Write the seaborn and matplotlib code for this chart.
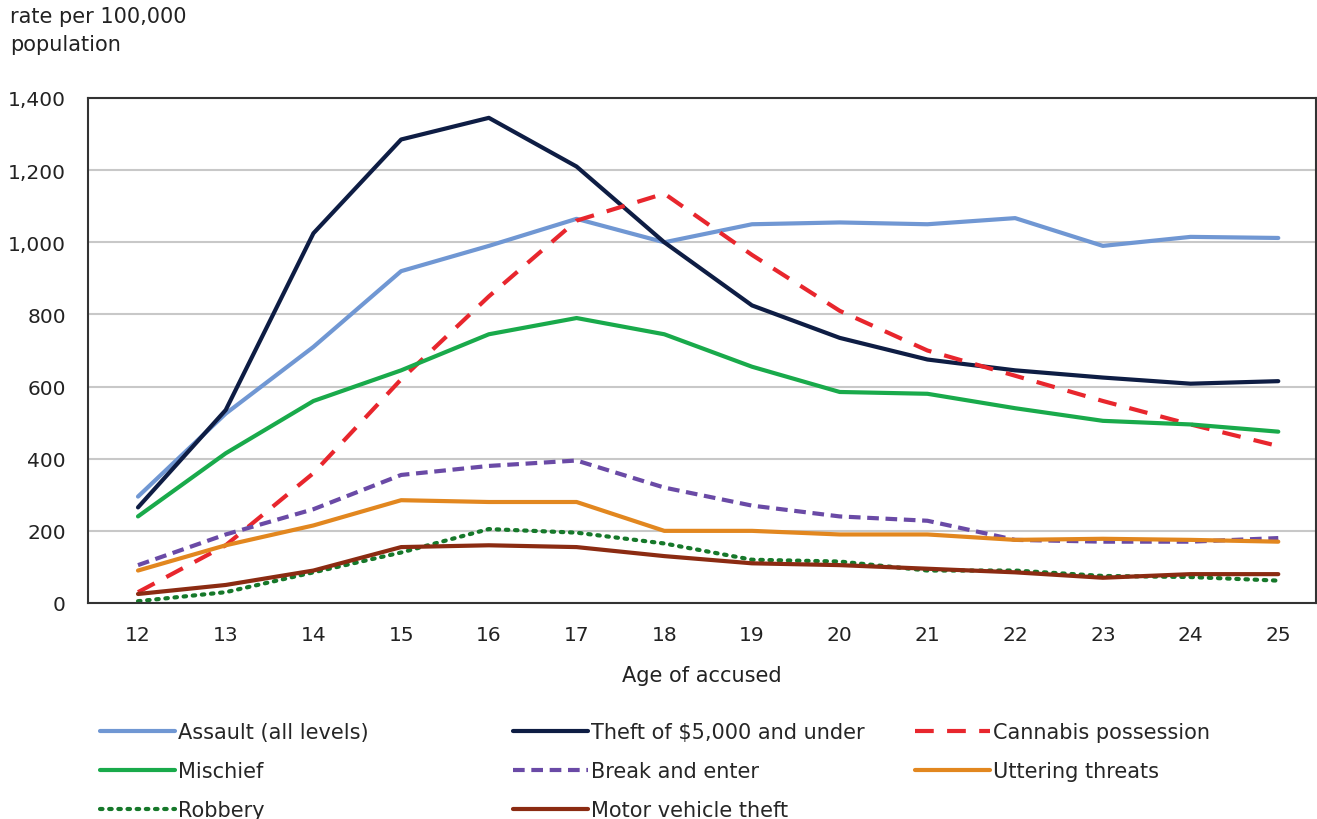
import matplotlib
matplotlib.use("Agg")
import matplotlib.pyplot as plt
from matplotlib.ticker import FuncFormatter, MultipleLocator, FixedLocator
import seaborn as sns

# ------------------------------------------------------------
# Data
# ------------------------------------------------------------
ages = [12, 13, 14, 15, 16, 17, 18, 19, 20, 21, 22, 23, 24, 25]

assault = [295, 525, 710, 920, 990, 1065, 1000, 1050, 1055, 1050, 1067, 990, 1015, 1012]
theft = [265, 535, 1025, 1285, 1345, 1210, 1000, 825, 735, 675, 645, 625, 608, 615]
cannabis = [30, 160, 360, 620, 850, 1060, 1135, 965, 810, 700, 630, 560, 495, 435]
mischief = [240, 415, 560, 645, 745, 790, 745, 655, 585, 580, 540, 505, 495, 475]
break_enter = [105, 190, 260, 355, 380, 395, 320, 270, 240, 228, 175, 170, 170, 180]
uttering = [90, 160, 215, 285, 280, 280, 200, 200, 190, 190, 175, 178, 175, 170]
robbery = [5, 30, 85, 140, 205, 195, 165, 120, 115, 90, 90, 75, 72, 62]
motor = [25, 50, 90, 155, 160, 155, 130, 110, 105, 95, 85, 70, 80, 80]

series_names = ["Assault (all levels)", "Theft of $5,000 and under", "Cannabis possession",
                "Mischief", "Break and enter", "Uttering threats",
                "Robbery", "Motor vehicle theft"]
series_values = [assault, theft, cannabis, mischief, break_enter, uttering, robbery, motor]

# ------------------------------------------------------------
# Styles
# ------------------------------------------------------------
colors = ["#7097d3", "#0e1d44", "#e8262d", "#19aa4b", "#6a4aa6", "#e2871f", "#16782a", "#8b2b12"]
styles = ["-", "-", (0, (4.5, 3.2)), "-", (0, (2.8, 1.6)), "-", (0, (0.6, 1.6)), "-"]
widths = [3, 3, 3, 3, 3, 3, 3, 3]

sns.set_theme(style="white")
plt.rcParams["font.family"] = ["DejaVu Sans"]

fig = plt.figure(figsize=(13.17, 8.2), dpi=100)
ax = fig.add_axes([88 / 1317, 1 - 604 / 820, (1316 - 88) / 1317, (604 - 99) / 820])

handles = []
for name, vals, c, ls, lw in zip(series_names, series_values, colors, styles, widths):
    sns.lineplot(x=ages, y=vals, ax=ax, color=c, linewidth=lw, linestyle=ls, label=name,
                 legend=False)
    line = ax.lines[-1]
    if name == "Robbery":
        line.set_dash_capstyle("round")
    handles.append(line)

ax.set_xlim(11.43, 25.43)
ax.set_ylim(0, 1400)
ax.yaxis.set_major_locator(MultipleLocator(200))
ax.yaxis.set_major_formatter(FuncFormatter(lambda v, p: f"{int(v):,}"))
ax.set_xticks(ages)
ax.xaxis.set_minor_locator(FixedLocator([a + 0.5 for a in ages[:-1]]))
ax.tick_params(axis="x", which="major", length=0, pad=16, labelsize=14.5, colors="#222222")
ax.tick_params(axis="x", which="minor", length=6, width=1.2, direction="out", color="#333333")
ax.tick_params(axis="y", length=0, pad=16, labelsize=14.5, colors="#222222")
ax.grid(axis="y", color="#c8c8c8", linewidth=1.5)
ax.set_axisbelow(True)
for s in ax.spines.values():
    s.set_color("#333333")
    s.set_linewidth(1.5)

ax.set_xlabel("Age of accused", fontsize=15, color="#222222", labelpad=15)
ax.set_ylabel("")
fig.text(10 / 1317, 1 - 7 / 820, "rate per 100,000\npopulation", fontsize=15,
         color="#222222", ha="left", va="top", linespacing=1.5)

# legend: three columns placed independently
col_idx = [[0, 3, 6], [1, 4, 7], [2, 5]]
col_x = [100, 513, 915]
for idx, x in zip(col_idx, col_x):
    fig.legend([handles[i] for i in idx], [series_names[i] for i in idx],
               loc="upper left", bbox_to_anchor=(x / 1317, 1 - 723 / 820),
               frameon=False, fontsize=15, handlelength=3.6, handletextpad=0.15,
               labelspacing=0.92, borderaxespad=0, borderpad=0)

fig.savefig("out.png", dpi=100)
